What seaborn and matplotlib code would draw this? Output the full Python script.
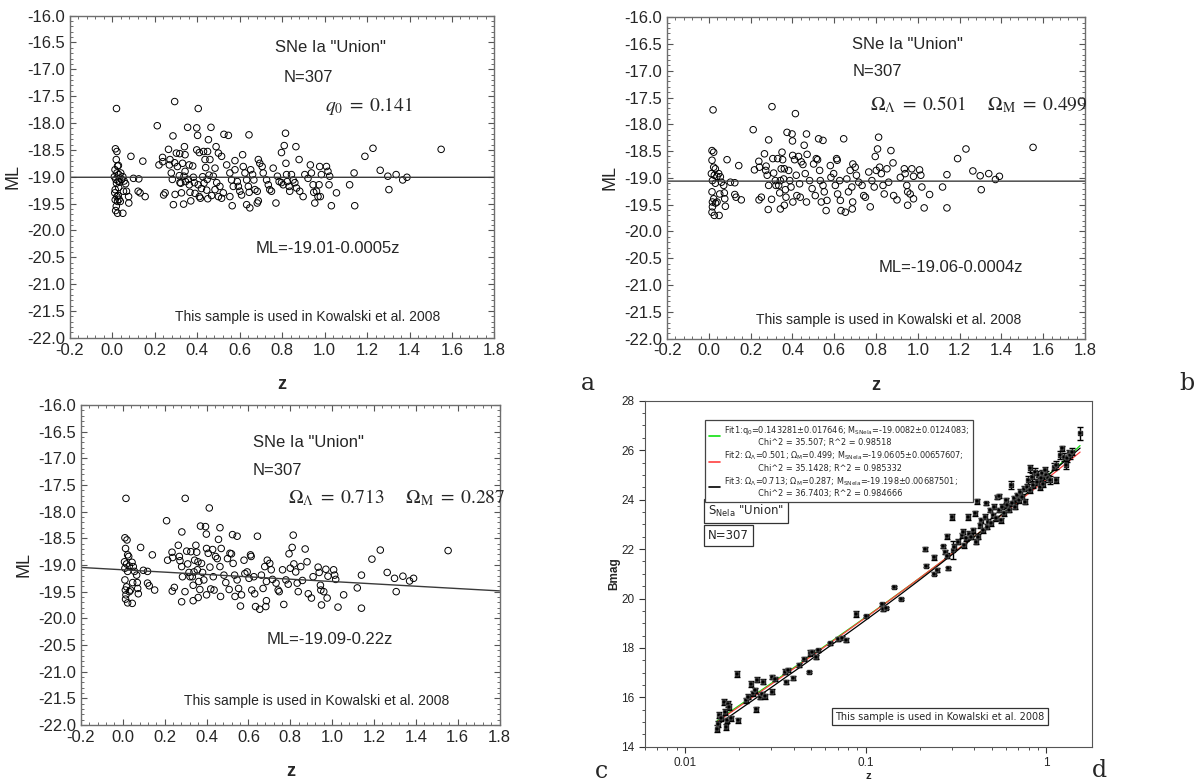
import numpy as np
import seaborn as sns
import matplotlib.pyplot as plt
from matplotlib.ticker import AutoMinorLocator, MultipleLocator, FixedLocator, NullFormatter
from matplotlib.font_manager import FontProperties
from matplotlib.lines import Line2D

sns.set_style("ticks")
plt.rcParams["font.family"] = ["Liberation Sans", "DejaVu Sans"]
plt.rcParams["mathtext.fontset"] = "dejavusans"

# ---- data: (z, ML) per panel ----
pts_a = [
    (0.020, -17.73), (0.015, -18.48), (0.022, -18.53), (0.019, -18.68), (0.025, -18.80),
    (0.029, -18.79), (0.013, -18.87), (0.022, -18.93), (0.031, -18.96), (0.010, -19.00),
    (0.017, -19.05), (0.028, -19.08), (0.040, -18.93), (0.050, -19.00), (0.056, -19.08),
    (0.063, -19.13), (0.067, -19.27), (0.053, -19.27), (0.014, -19.24), (0.022, -19.37),
    (0.014, -19.43), (0.025, -19.46), (0.038, -19.46), (0.019, -19.55), (0.016, -19.63),
    (0.025, -19.68), (0.050, -19.68), (0.077, -19.37), (0.078, -19.49), (0.088, -18.62),
    (0.100, -19.03), (0.125, -19.04), (0.122, -19.27), (0.131, -19.30), (0.144, -18.71),
    (0.155, -19.37), (0.012, -19.30), (0.030, -19.20), (0.035, -19.10), (0.045, -19.05),
    (0.020, -19.12), (0.028, -19.35), (0.032, -19.42),
    (0.212, -18.05), (0.220, -18.78), (0.237, -18.64), (0.238, -18.72), (0.242, -19.34),
    (0.249, -19.30), (0.265, -18.49), (0.272, -18.68), (0.269, -18.78), (0.278, -18.93),
    (0.283, -19.05), (0.286, -18.24), (0.288, -19.52), (0.294, -18.74), (0.294, -17.60),
    (0.296, -19.33), (0.302, -18.56), (0.307, -18.81), (0.316, -18.98), (0.319, -19.11),
    (0.318, -18.57), (0.323, -19.12), (0.326, -19.30), (0.338, -18.99), (0.331, -18.75),
    (0.343, -18.90), (0.345, -19.09), (0.336, -19.51), (0.340, -18.44), (0.343, -18.59),
    (0.358, -19.05), (0.362, -18.78), (0.363, -19.15), (0.366, -19.29), (0.370, -19.45),
    (0.355, -18.08), (0.379, -18.80), (0.382, -19.01), (0.387, -19.11), (0.390, -19.31),
    (0.398, -18.09), (0.398, -18.50), (0.402, -18.23), (0.405, -19.15), (0.410, -19.37),
    (0.410, -18.55), (0.405, -17.73), (0.426, -19.00), (0.430, -18.53), (0.432, -19.12),
    (0.437, -18.68), (0.440, -18.83), (0.445, -19.25), (0.449, -18.53), (0.450, -19.41),
    (0.453, -18.31), (0.456, -18.97), (0.460, -18.68), (0.465, -18.08), (0.420, -19.22),
    (0.415, -19.40), (0.447, -19.05), (0.468, -19.35),
    (0.489, -18.44), (0.500, -18.56), (0.515, -18.62), (0.484, -18.84), (0.476, -18.99),
    (0.492, -19.11), (0.507, -19.18), (0.523, -19.30), (0.515, -19.40), (0.500, -19.37),
    (0.484, -19.24), (0.526, -18.21), (0.547, -18.23), (0.539, -18.78), (0.554, -18.93),
    (0.562, -19.06), (0.570, -19.18), (0.554, -19.37), (0.565, -19.54), (0.578, -18.70),
    (0.578, -18.87), (0.589, -19.09), (0.594, -19.18), (0.601, -19.27), (0.609, -19.34),
    (0.614, -18.59), (0.617, -18.81), (0.625, -18.93), (0.633, -19.06), (0.641, -19.18),
    (0.645, -19.29), (0.633, -19.52), (0.648, -19.58), (0.644, -18.22), (0.652, -18.87),
    (0.661, -18.96), (0.667, -19.06), (0.672, -19.24), (0.683, -19.27), (0.688, -19.45),
    (0.683, -19.49), (0.688, -18.68), (0.695, -18.75), (0.706, -18.81), (0.711, -18.93),
    (0.727, -19.06), (0.735, -19.15), (0.742, -19.24), (0.750, -19.27), (0.758, -18.84),
    (0.771, -19.49), (0.778, -18.99), (0.786, -19.09), (0.797, -19.11), (0.805, -19.15),
    (0.797, -18.55), (0.810, -18.42), (0.816, -18.19), (0.818, -18.75), (0.821, -18.96),
    (0.824, -19.09), (0.833, -19.18), (0.836, -19.27), (0.844, -18.96), (0.852, -19.06),
    (0.860, -19.11), (0.865, -18.44), (0.868, -19.21), (0.880, -18.68), (0.883, -19.27),
    (0.899, -19.37), (0.907, -18.96), (0.922, -19.03), (0.933, -18.78), (0.938, -18.93),
    (0.946, -19.15), (0.949, -19.29), (0.954, -19.49), (0.962, -19.27), (0.969, -19.37),
    (0.974, -19.15), (0.977, -18.81), (0.980, -19.37), (0.985, -18.96), (1.009, -18.81),
    (1.016, -18.90), (1.024, -18.99), (1.021, -19.15), (1.032, -19.54), (1.056, -19.30),
    (1.118, -19.15), (1.139, -18.93), (1.142, -19.54), (1.190, -18.62), (1.228, -18.47),
    (1.262, -18.88), (1.298, -18.99), (1.303, -19.24), (1.337, -18.96), (1.368, -19.06),
    (1.388, -19.01), (1.549, -18.49),
]

pts_b = [
    (0.020, -17.73), (0.015, -18.49), (0.023, -18.52), (0.015, -18.67), (0.023, -18.80),
    (0.031, -18.83), (0.012, -18.92), (0.026, -18.95), (0.039, -18.97), (0.017, -19.05),
    (0.031, -19.10), (0.047, -18.92), (0.055, -18.98), (0.060, -19.08), (0.071, -19.14),
    (0.074, -19.28), (0.052, -19.30), (0.015, -19.26), (0.023, -19.39), (0.017, -19.45),
    (0.032, -19.47), (0.039, -19.45), (0.017, -19.54), (0.015, -19.64), (0.026, -19.70),
    (0.049, -19.70), (0.076, -19.39), (0.079, -19.53), (0.087, -18.66), (0.103, -19.08),
    (0.124, -19.09), (0.124, -19.31), (0.130, -19.36), (0.143, -18.77), (0.155, -19.41),
    (0.212, -18.10), (0.218, -18.85), (0.239, -18.69), (0.242, -18.80), (0.240, -19.41),
    (0.251, -19.36), (0.266, -18.55), (0.274, -18.78), (0.272, -18.86), (0.279, -18.95),
    (0.286, -19.14), (0.286, -18.29), (0.284, -19.59), (0.302, -17.67), (0.300, -19.40),
    (0.306, -18.64), (0.310, -18.91), (0.318, -19.05), (0.321, -19.14), (0.329, -18.64),
    (0.334, -19.14), (0.339, -19.28), (0.342, -19.05), (0.346, -18.83), (0.342, -19.58),
    (0.350, -18.52), (0.353, -18.66), (0.358, -19.02), (0.361, -18.83), (0.366, -19.22),
    (0.369, -19.36), (0.361, -19.51), (0.374, -18.15), (0.382, -18.86), (0.387, -19.05),
    (0.393, -19.17), (0.398, -18.18), (0.400, -18.31), (0.401, -18.58), (0.402, -19.45),
    (0.414, -17.80), (0.410, -18.66), (0.418, -18.95), (0.421, -19.33), (0.429, -18.60),
    (0.434, -19.11), (0.437, -19.36), (0.442, -18.70), (0.450, -18.75), (0.456, -18.39),
    (0.461, -18.92), (0.467, -18.18), (0.467, -19.45), (0.470, -18.56), (0.482, -19.05),
    (0.494, -19.20), (0.501, -18.74), (0.509, -19.33), (0.514, -18.64), (0.520, -18.66),
    (0.525, -18.27), (0.530, -18.86), (0.533, -19.05), (0.538, -19.45), (0.546, -18.30),
    (0.546, -19.14), (0.552, -19.26), (0.561, -19.61), (0.565, -19.42), (0.581, -18.77),
    (0.584, -18.99), (0.597, -18.92), (0.605, -19.14), (0.611, -18.64), (0.614, -18.67),
    (0.616, -19.30), (0.626, -19.05), (0.629, -19.42), (0.632, -19.61), (0.645, -18.27),
    (0.653, -19.64), (0.660, -19.02), (0.668, -19.26), (0.676, -18.86), (0.684, -19.17),
    (0.688, -19.45), (0.686, -19.58), (0.689, -18.74), (0.700, -18.80), (0.706, -18.95),
    (0.717, -19.08), (0.733, -19.14), (0.741, -19.33), (0.749, -19.36), (0.765, -18.89),
    (0.772, -19.54), (0.780, -19.05), (0.791, -19.17), (0.796, -18.60), (0.801, -18.86),
    (0.807, -18.46), (0.812, -18.24), (0.817, -18.80), (0.825, -18.92), (0.833, -19.14),
    (0.839, -19.30), (0.852, -18.83), (0.860, -19.08), (0.871, -18.49), (0.881, -18.72),
    (0.884, -19.33), (0.900, -19.41), (0.916, -18.99), (0.935, -18.83), (0.939, -18.92),
    (0.947, -19.14), (0.951, -19.26), (0.951, -19.51), (0.963, -19.30), (0.971, -18.83),
    (0.979, -19.39), (0.979, -18.97), (1.008, -18.85), (1.014, -18.95), (1.019, -19.17),
    (1.030, -19.56), (1.056, -19.31), (1.118, -19.17), (1.139, -18.94), (1.139, -19.56),
    (1.190, -18.64), (1.230, -18.46), (1.263, -18.87), (1.298, -18.96), (1.303, -19.22),
    (1.339, -18.92), (1.371, -19.03), (1.390, -18.97), (1.551, -18.43),
]

pts_c = [
    (0.015, -17.75), (0.010, -18.49), (0.020, -18.53), (0.013, -18.69), (0.023, -18.81),
    (0.028, -18.84), (0.008, -18.94), (0.018, -18.98), (0.031, -19.02), (0.010, -19.06),
    (0.023, -19.12), (0.044, -18.95), (0.050, -19.03), (0.056, -19.12), (0.066, -19.19),
    (0.069, -19.33), (0.047, -19.33), (0.010, -19.28), (0.018, -19.41), (0.012, -19.47),
    (0.031, -19.50), (0.037, -19.47), (0.015, -19.56), (0.013, -19.64), (0.023, -19.71),
    (0.045, -19.72), (0.071, -19.44), (0.074, -19.54), (0.085, -18.67), (0.098, -19.10),
    (0.118, -19.12), (0.118, -19.34), (0.126, -19.39), (0.141, -18.81), (0.152, -19.47),
    (0.209, -18.17), (0.214, -18.91), (0.235, -18.76), (0.238, -18.86), (0.236, -19.49),
    (0.246, -19.42), (0.265, -18.63), (0.270, -18.84), (0.273, -18.92), (0.281, -19.03),
    (0.285, -19.22), (0.282, -18.38), (0.281, -19.69), (0.298, -17.75), (0.297, -19.50),
    (0.305, -18.74), (0.310, -18.98), (0.316, -19.14), (0.321, -19.22), (0.325, -18.75),
    (0.332, -19.22), (0.336, -19.38), (0.340, -19.13), (0.343, -18.91), (0.336, -19.67),
    (0.349, -18.63), (0.353, -18.76), (0.356, -19.09), (0.359, -18.94), (0.363, -19.31),
    (0.368, -19.46), (0.360, -19.61), (0.371, -18.27), (0.376, -18.97), (0.381, -19.14),
    (0.387, -19.28), (0.395, -18.28), (0.399, -18.42), (0.400, -18.69), (0.400, -19.56),
    (0.413, -17.93), (0.408, -18.78), (0.416, -19.04), (0.420, -19.45), (0.429, -18.71),
    (0.432, -19.22), (0.436, -19.47), (0.443, -18.84), (0.451, -18.88), (0.457, -18.52),
    (0.464, -19.03), (0.464, -18.30), (0.467, -19.59), (0.470, -18.69), (0.483, -19.19),
    (0.492, -19.33), (0.500, -18.88), (0.508, -19.46), (0.512, -18.78), (0.519, -18.79),
    (0.524, -18.43), (0.527, -18.97), (0.534, -19.19), (0.536, -19.59), (0.546, -18.46),
    (0.546, -19.28), (0.553, -19.44), (0.562, -19.77), (0.567, -19.56), (0.579, -18.91),
    (0.583, -19.16), (0.594, -19.13), (0.603, -19.25), (0.610, -18.81), (0.613, -18.84),
    (0.616, -19.47), (0.626, -19.22), (0.630, -19.54), (0.634, -19.78), (0.643, -18.46),
    (0.654, -19.83), (0.662, -19.19), (0.670, -19.44), (0.678, -19.03), (0.686, -19.31),
    (0.686, -19.67), (0.683, -19.78), (0.690, -18.91), (0.702, -18.97), (0.709, -19.09),
    (0.715, -19.27), (0.732, -19.34), (0.742, -19.47), (0.747, -19.50), (0.763, -19.09),
    (0.769, -19.74), (0.779, -19.28), (0.790, -19.36), (0.794, -18.79), (0.800, -19.06),
    (0.809, -18.67), (0.814, -18.44), (0.817, -18.98), (0.826, -19.13), (0.833, -19.34),
    (0.838, -19.50), (0.850, -19.03), (0.858, -19.29), (0.871, -18.70), (0.880, -18.94),
    (0.886, -19.54), (0.901, -19.62), (0.909, -19.22), (0.933, -19.04), (0.938, -19.14),
    (0.944, -19.38), (0.946, -19.47), (0.949, -19.75), (0.960, -19.50), (0.970, -19.08),
    (0.976, -19.62), (0.980, -19.21), (1.007, -19.09), (1.012, -19.19), (1.017, -19.27),
    (1.028, -19.79), (1.055, -19.56), (1.120, -19.43), (1.140, -19.19), (1.140, -19.81),
    (1.190, -18.89), (1.230, -18.72), (1.263, -19.14), (1.298, -19.25), (1.306, -19.50),
    (1.338, -19.21), (1.370, -19.30), (1.389, -19.25), (1.554, -18.73),
]

# panel d: (z, Bmag, error)
pts_d = [
    (0.0151, 14.74, 0.15), (0.0153, 14.94, 0.12), (0.0155, 15.28, 0.12), (0.0159, 15.15, 0.10),
    (0.0164, 15.82, 0.12), (0.0166, 15.42, 0.12), (0.0169, 14.81, 0.12), (0.0170, 15.08, 0.10),
    (0.0173, 15.75, 0.12), (0.0176, 15.62, 0.12), (0.0179, 15.15, 0.10), (0.0195, 16.94, 0.12),
    (0.0198, 15.08, 0.10), (0.0219, 15.89, 0.10), (0.0223, 16.02, 0.10), (0.0232, 16.54, 0.12),
    (0.0239, 16.16, 0.10), (0.0244, 16.29, 0.10), (0.0247, 15.51, 0.10), (0.0252, 16.72, 0.10),
    (0.0260, 16.02, 0.10), (0.0266, 16.13, 0.10), (0.0270, 16.63, 0.10), (0.0277, 16.05, 0.10),
    (0.0302, 16.83, 0.08), (0.0305, 16.22, 0.10), (0.0315, 16.76, 0.08), (0.0357, 17.03, 0.10),
    (0.0365, 16.63, 0.08), (0.0373, 17.10, 0.08), (0.0397, 16.80, 0.08), (0.0426, 17.30, 0.08),
    (0.0455, 17.57, 0.06), (0.0486, 17.03, 0.05), (0.0495, 17.78, 0.12), (0.0508, 17.84, 0.08),
    (0.0530, 17.64, 0.08), (0.0546, 17.91, 0.06), (0.0634, 18.18, 0.05), (0.0705, 18.38, 0.08),
    (0.0745, 18.42, 0.06), (0.0780, 18.34, 0.08), (0.0883, 19.39, 0.12), (0.101, 19.30, 0.05),
    (0.124, 19.76, 0.06), (0.125, 19.56, 0.05), (0.130, 19.60, 0.04), (0.144, 20.45, 0.04),
    (0.157, 19.97, 0.04), (0.212, 22.02, 0.08), (0.217, 21.32, 0.06), (0.239, 21.66, 0.10),
    (0.240, 21.01, 0.06), (0.250, 21.17, 0.08), (0.268, 22.12, 0.06), (0.274, 21.89, 0.08),
    (0.284, 21.73, 0.10), (0.284, 22.52, 0.10), (0.286, 21.22, 0.05), (0.302, 23.28, 0.12),
    (0.304, 21.96, 0.35), (0.310, 22.09, 0.10), (0.325, 22.29, 0.10), (0.340, 22.56, 0.10),
    (0.346, 22.70, 0.10), (0.350, 22.16, 0.10), (0.360, 22.43, 0.10), (0.368, 23.31, 0.12),
    (0.376, 22.63, 0.10), (0.385, 22.50, 0.10), (0.393, 22.77, 0.10), (0.401, 23.44, 0.12),
    (0.410, 22.29, 0.10), (0.414, 23.94, 0.10), (0.420, 22.50, 0.10), (0.428, 22.97, 0.10),
    (0.437, 23.17, 0.10), (0.446, 22.77, 0.10), (0.456, 23.31, 0.10), (0.465, 23.85, 0.06),
    (0.468, 22.90, 0.10), (0.477, 23.10, 0.10), (0.486, 23.58, 0.10), (0.495, 23.04, 0.10),
    (0.506, 23.37, 0.10), (0.517, 23.71, 0.10), (0.527, 23.24, 0.10), (0.532, 24.09, 0.08),
    (0.546, 24.14, 0.08), (0.550, 23.58, 0.10), (0.560, 23.17, 0.10), (0.572, 23.71, 0.10),
    (0.584, 23.44, 0.10), (0.597, 23.98, 0.10), (0.610, 23.78, 0.10), (0.623, 23.58, 0.10),
    (0.640, 24.59, 0.15), (0.648, 23.85, 0.10), (0.660, 24.05, 0.10), (0.675, 23.71, 0.10),
    (0.693, 24.18, 0.10), (0.707, 23.98, 0.10), (0.720, 24.32, 0.12), (0.737, 24.11, 0.10),
    (0.752, 24.45, 0.12), (0.768, 23.91, 0.10), (0.780, 24.52, 0.12), (0.795, 24.79, 0.15),
    (0.810, 25.26, 0.15), (0.815, 24.39, 0.12), (0.830, 24.92, 0.15), (0.848, 24.59, 0.12),
    (0.870, 25.13, 0.15), (0.885, 24.72, 0.12), (0.900, 24.99, 0.15), (0.920, 24.52, 0.12),
    (0.935, 24.86, 0.15), (0.950, 25.06, 0.15), (0.965, 24.65, 0.12), (0.980, 25.19, 0.15),
    (1.000, 24.99, 0.15), (1.020, 24.86, 0.15), (1.055, 24.79, 0.15), (1.110, 25.33, 0.15),
    (1.130, 24.79, 0.12), (1.140, 25.40, 0.15), (1.195, 25.80, 0.15), (1.220, 26.07, 0.12),
    (1.250, 25.73, 0.15), (1.280, 25.40, 0.15), (1.300, 25.67, 0.15), (1.330, 25.87, 0.15),
    (1.360, 25.80, 0.15), (1.390, 25.94, 0.15), (1.540, 26.68, 0.25),
]

panel_text = {
    "a": dict(fit=(-19.01, -0.0005), eq="ML=-19.01-0.0005z",
              par=r"$q_0\;=\;0.141$"),
    "b": dict(fit=(-19.06, -0.0004), eq="ML=-19.06-0.0004z",
              par=r"$\Omega_\Lambda\;=\;0.501\quad\;\;\Omega_\mathrm{M}\;=\;0.499$"),
    "c": dict(fit=(-19.09, -0.22), eq="ML=-19.09-0.22z",
              par=r"$\Omega_\Lambda\;=\;0.713\quad\;\;\Omega_\mathrm{M}\;=\;0.287$"),
}
# text anchors (axes fraction) for: title, N, params, equation, note
text_pos = {
    "a": [(0.483, 0.90), (0.504, 0.807), (0.60, 0.72), (0.437, 0.276), (0.247, 0.066)],
    "b": [(0.443, 0.916), (0.443, 0.832), (0.486, 0.729), (0.505, 0.221), (0.213, 0.059)],
    "c": [(0.41, 0.884), (0.41, 0.797), (0.494, 0.709), (0.444, 0.266), (0.246, 0.075)],
}

fig = plt.figure(figsize=(12.03, 7.82), dpi=100)
ax_a = fig.add_axes([0.058, 0.568, 0.353, 0.412])
ax_b = fig.add_axes([0.5545, 0.567, 0.3475, 0.411])
ax_c = fig.add_axes([0.0673, 0.073, 0.348, 0.409])
ax_d = fig.add_axes([0.536, 0.045, 0.372, 0.4425])

frame = "#6e6e6e"


def ml_panel(ax, pts, key):
    z, ml = zip(*pts)
    sns.scatterplot(x=list(z), y=list(ml), ax=ax, s=22, linewidth=0.7,
                    edgecolor="black", legend=False)
    ax.collections[0].set_facecolor("none")
    ax.set_xlim(-0.2, 1.8)
    ax.set_ylim(-22, -16)
    a0, a1 = panel_text[key]["fit"]
    zz = np.array(ax.get_xlim())
    ax.plot(zz, a0 + a1 * zz, color="#3a3a3a", lw=1.0)
    ax.xaxis.set_major_locator(MultipleLocator(0.2))
    ax.yaxis.set_major_locator(MultipleLocator(0.5))
    ax.xaxis.set_major_formatter(plt.FuncFormatter(lambda v, p: f"{v:.1f}"))
    ax.yaxis.set_major_formatter(plt.FuncFormatter(lambda v, p: f"{v:.1f}"))
    ax.xaxis.set_minor_locator(AutoMinorLocator(5))
    ax.yaxis.set_minor_locator(AutoMinorLocator(5))
    ax.tick_params(which="both", direction="in", top=True, right=True,
                   color="#555555", labelsize=12)
    ax.tick_params(which="major", length=4)
    ax.tick_params(which="minor", length=2)
    for sp in ax.spines.values():
        sp.set_color(frame)
        sp.set_linewidth(1.0)
    ax.set_xlabel("z", fontsize=13, fontweight="bold", labelpad=13)
    ax.set_ylabel("ML", fontsize=13, labelpad=4)
    p = text_pos[key]
    ax.text(*p[0], 'SNe Ia "Union"', transform=ax.transAxes, fontsize=12, va="center")
    ax.text(*p[1], "N=307", transform=ax.transAxes, fontsize=12, va="center")
    ax.text(*p[2], panel_text[key]["par"], transform=ax.transAxes, fontsize=14,
            va="center", math_fontfamily="stix")
    ax.text(*p[3], panel_text[key]["eq"], transform=ax.transAxes, fontsize=12, va="center")
    ax.text(*p[4], "This sample is used in Kowalski et al. 2008", transform=ax.transAxes,
            fontsize=10, va="center")


ml_panel(ax_a, pts_a, "a")
ml_panel(ax_b, pts_b, "b")
ml_panel(ax_c, pts_c, "c")

# ---- panel d ----
dz, db, de = (np.array(v) for v in zip(*pts_d))
ax_d.errorbar(dz, db, yerr=de, fmt="s", ms=2.4, color="black", ecolor="black",
              elinewidth=1.0, capsize=2.4, capthick=1.0, zorder=3)
sns.scatterplot(x=dz, y=db, ax=ax_d, s=7, color="black", marker="s", legend=False, zorder=4)

c_light, h0 = 299792.458, 70.0
zfit = np.geomspace(dz.min(), dz.max(), 300)


def dl_flat(z, om, ol):
    zg = np.linspace(0, z.max(), 4000)
    inv = 1.0 / np.sqrt(om * (1 + zg) ** 3 + ol)
    dc = np.concatenate([[0], np.cumsum(0.5 * (inv[1:] + inv[:-1]) * np.diff(zg))])
    return c_light / h0 * (1 + z) * np.interp(z, zg, dc)


dl_q0 = c_light / h0 * (zfit + 0.5 * (1 - 0.143281) * zfit ** 2)
fits = [
    (-19.0082 + 5 * np.log10(dl_q0) + 25, "#10e010"),
    (-19.0605 + 5 * np.log10(dl_flat(zfit, 0.499, 0.501)) + 25, "#ff4040"),
    (-19.198 + 5 * np.log10(dl_flat(zfit, 0.287, 0.713)) + 25, "black"),
]
for yy, col in fits:
    sns.lineplot(x=zfit, y=yy, ax=ax_d, color=col, lw=0.9, zorder=2)

ax_d.set_xscale("log")
ax_d.set_xlim(0.006, 1.8)
ax_d.set_ylim(14, 28)
ax_d.xaxis.set_major_locator(FixedLocator([0.01, 0.1, 1]))
ax_d.xaxis.set_major_formatter(plt.FuncFormatter(lambda v, p: f"{v:g}"))
ax_d.xaxis.set_minor_locator(FixedLocator(
    [m * 10.0 ** e for e in (-3, -2, -1, 0) for m in range(2, 10)]))
ax_d.xaxis.set_minor_formatter(NullFormatter())
ax_d.yaxis.set_major_locator(MultipleLocator(2))
ax_d.yaxis.set_minor_locator(MultipleLocator(0.5))
ax_d.tick_params(which="both", direction="out", labelsize=8.5, color="#333333")
ax_d.tick_params(which="major", length=4)
ax_d.tick_params(which="minor", length=2)
for sp in ax_d.spines.values():
    sp.set_color("#555555")
ax_d.set_xlabel("z", fontsize=8, fontweight="bold", labelpad=1)
ax_d.set_ylabel("Bmag", fontsize=8.5, fontweight="bold", labelpad=1)

leg_labels = [
    "Fit1:q$_0$=0.143281±0.017646; M$_\\mathrm{SNeIa}$=-19.0082±0.0124083;\n"
    "             Chi^2 = 35.507; R^2 = 0.98518",
    "Fit2: Ω$_\\Lambda$=0.501; Ω$_\\mathrm{M}$=0.499; M$_\\mathrm{SNeIa}$=-19.0605±0.00657607;\n"
    "             Chi^2 = 35.1428; R^2 = 0.985332",
    "Fit3: Ω$_\\Lambda$=0.713; Ω$_\\mathrm{M}$=0.287; M$_\\mathrm{SNeIa}$=-19.198±0.00687501;\n"
    "             Chi^2 = 36.7403; R^2 = 0.984666",
]
handles = [Line2D([], [], color=col, lw=1.2) for _, col in fits]
leg = ax_d.legend(handles, leg_labels, loc="upper left", bbox_to_anchor=(0.134, 0.945),
                  prop=FontProperties(family="DejaVu Sans", size=5.9,
                                      math_fontfamily="dejavusans"),
                  frameon=True, fancybox=False, edgecolor="#444444", framealpha=1,
                  handlelength=1.3, handletextpad=0.5, borderpad=0.5,
                  labelspacing=0.3, borderaxespad=0)
leg.get_frame().set_linewidth(0.9)

box = dict(boxstyle="square,pad=0.35", fc="white", ec="#333333", lw=0.9)
ax_d.text(0.142, 0.682, 'S$_\\mathrm{NeIa}$ "Union"', transform=ax_d.transAxes,
          fontsize=8.5, va="center", family="DejaVu Sans", bbox=box)
ax_d.text(0.142, 0.610, "N=307", transform=ax_d.transAxes, fontsize=8.5,
          va="center", family="DejaVu Sans", bbox=box)
ax_d.text(0.425, 0.087, "This sample is used in Kowalski et al. 2008",
          transform=ax_d.transAxes, fontsize=7, va="center", family="DejaVu Sans",
          bbox=box)

# panel letters
for lbl, x, y in [("a", 0.489, 0.510), ("b", 0.987, 0.510),
                  ("c", 0.4996, 0.014), ("d", 0.914, 0.015)]:
    fig.text(x, y, lbl, fontsize=17, family="DejaVu Serif", ha="center", va="center")

fig.savefig("out.png", dpi=100)
